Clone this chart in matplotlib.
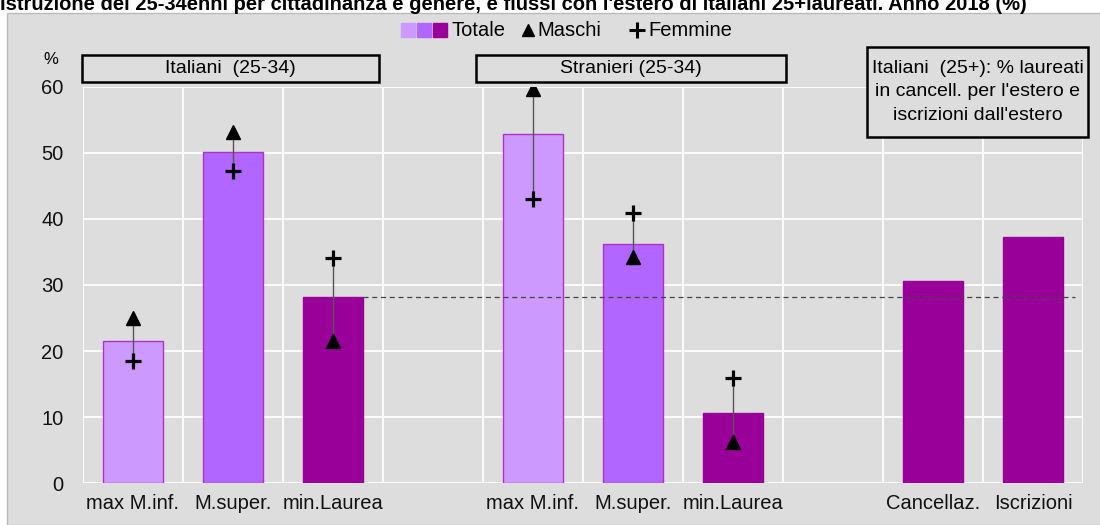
import matplotlib.pyplot as plt
from matplotlib.patches import Rectangle
from matplotlib.lines import Line2D

plt.rcParams['font.family'] = ['Liberation Sans', 'DejaVu Sans']

# dati
categorie = ['max M.inf.', 'M.super.', 'min.Laurea',
             'max M.inf.', 'M.super.', 'min.Laurea',
             'Cancellaz.', 'Iscrizioni']
posizioni = [0, 1, 2, 4, 5, 6, 8, 9]
totale = [21.5, 50.1, 28.2, 52.8, 36.2, 10.6, 30.6, 37.3]
maschi = [25.0, 53.2, 21.6, 59.7, 34.2, 6.2]
femmine = [18.5, 47.2, 34.1, 43.0, 40.9, 16.0]
riferimento = 28.2  # Italiani min.Laurea

col_chiaro = '#cc99ff'
col_medio = '#b066ff'
col_scuro = '#990099'
colori = [col_chiaro, col_medio, col_scuro, col_chiaro, col_medio, col_scuro,
          col_scuro, col_scuro]
bordo = ['#b030c8', '#b030c8', col_scuro, '#b030c8', '#b030c8', col_scuro,
         col_scuro, col_scuro]
sfondo = '#dddddd'

fig = plt.figure(figsize=(11, 5.25), dpi=100, facecolor='white')
# pannello grigio
fig.add_artist(Rectangle((7 / 1100, 0), 1, 1 - 13 / 525, transform=fig.transFigure,
                         facecolor=sfondo, edgecolor='#bbbbbb', lw=1, zorder=0))

ax = fig.add_axes([83 / 1100, 1 - 483.3 / 525, 1000 / 1100, (483.3 - 86.7) / 525])
ax.set_facecolor(sfondo)
for s in ax.spines.values():
    s.set_visible(False)

ax.set_xlim(-0.5, 9.5)
ax.set_ylim(0, 60)
ax.set_yticks(range(0, 61, 10))
ax.set_xticks(posizioni)
ax.set_xticklabels(categorie, fontsize=14.5)
ax.tick_params(axis='y', length=0, pad=14, labelsize=14.5, colors='#111111')
ax.tick_params(axis='x', length=0, pad=8, colors='#111111')

# griglia bianca
for y in range(0, 61, 10):
    ax.axhline(y, color='white', lw=1.3, zorder=1)
for x in [i - 0.5 for i in range(11)]:
    ax.axvline(x, color='white', lw=1.3, zorder=1)

ax.bar(posizioni, totale, width=0.6, color=colori, edgecolor=bordo, lw=1, zorder=2)

# linea tratteggiata di riferimento
ax.plot([2.3, 9.42], [riferimento, riferimento], color='#444444', lw=0.9,
        dashes=(4, 3), zorder=2)

# maschi / femmine
for p, m, f in zip(posizioni[:6], maschi, femmine):
    ax.plot([p, p], [m, f], color='#555555', lw=1, zorder=3)
ax.plot(posizioni[:6], maschi, ls='none', marker='^', ms=10, color='black', zorder=4)
ax.plot(posizioni[:6], femmine, ls='none', marker='+', ms=12, mew=2.3, color='black',
        zorder=4)

# riquadri dei gruppi
ax.add_patch(Rectangle((-0.51, 60.7), 2.97, 4.1, facecolor='none', edgecolor='black',
                       lw=1.8, clip_on=False, zorder=5))
ax.text(0.975, 62.75, 'Italiani  (25-34)', ha='center', va='center', fontsize=14)
ax.add_patch(Rectangle((3.43, 60.7), 3.1, 4.1, facecolor='none', edgecolor='black',
                       lw=1.8, clip_on=False, zorder=5))
ax.text(4.98, 62.75, 'Stranieri (25-34)', ha='center', va='center', fontsize=14)
ax.add_patch(Rectangle((7.34, 52.4), 2.21, 13.6, facecolor=sfondo, edgecolor='black',
                       lw=1.8, clip_on=False, zorder=5))
ax.text(8.445, 59.2, "Italiani  (25+): % laureati\nin cancell. per l'estero e\niscrizioni dall'estero",
        ha='center', va='center', fontsize=14, linespacing=1.5, zorder=6)

# simbolo %
fig.text(51 / 1100, 1 - 59 / 525, '%', ha='center', va='center', fontsize=12)

# legenda
yl = 1 - 30 / 525
for xp, c in zip([408, 424, 440], [col_chiaro, col_medio, col_scuro]):
    fig.add_artist(Line2D([xp / 1100], [yl], marker='s', ms=10, color=c, ls='none',
                          transform=fig.transFigure))
fig.text(451 / 1100, yl, 'Totale', ha='left', va='center', fontsize=14.5)
fig.add_artist(Line2D([528 / 1100], [yl], marker='^', ms=9, color='black', ls='none',
                      transform=fig.transFigure))
fig.text(537 / 1100, yl, 'Maschi', ha='left', va='center', fontsize=14.5)
fig.add_artist(Line2D([637 / 1100], [yl], marker='+', ms=11, mew=2.2, color='black',
                      ls='none', transform=fig.transFigure))
fig.text(648 / 1100, yl, 'Femmine', ha='left', va='center', fontsize=14.5)

# titolo (tagliato in alto come nell'originale)
fig.text(0.0, 1 - 10 / 525,
         "Istruzione dei 25-34enni per cittadinanza e genere, e flussi con l'estero di italiani 25+laureati. Anno 2018 (%)",
         ha='left', va='baseline', fontsize=14.5, fontweight='bold')

fig.savefig('out.png', dpi=100)
